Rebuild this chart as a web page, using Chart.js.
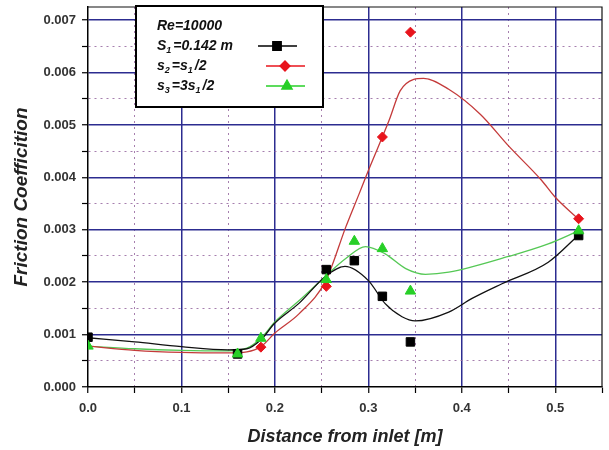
<!DOCTYPE html>
<html>
<head>
<meta charset="utf-8">
<script src="https://cdn.jsdelivr.net/npm/chart.js@4.4.1/dist/chart.umd.min.js"></script>
<style>
  html, body { margin: 0; padding: 0; background: #fff; }
  canvas { display: block; }
</style>
</head>
<body>
<canvas id="frictionChart" width="609" height="450"></canvas>
<script>
(function(){
  'use strict';

  // Measured points: distance from inlet [m] vs friction coefficient
  const s1X = [0.0, 0.16, 0.255, 0.285, 0.315, 0.345, 0.525];
  const s1Y = [0.00095, 0.00063, 0.00224, 0.00241, 0.00173, 0.00086, 0.00289];
  const s2X = [0.185, 0.255, 0.315, 0.345, 0.525];
  const s2Y = [0.00076, 0.00192, 0.00477, 0.00677, 0.00321];
  const s3X = [0.0, 0.16, 0.185, 0.255, 0.285, 0.315, 0.345, 0.525];
  const s3Y = [0.00078, 0.00063, 0.00093, 0.00205, 0.00278, 0.00264, 0.00183, 0.00298];

  // Fitted curves
  const fit1X = [0.0, 0.05, 0.1, 0.15, 0.17, 0.185, 0.2, 0.226, 0.254, 0.275, 0.3, 0.318, 0.336, 0.35, 0.386, 0.411, 0.443, 0.4925, 0.525];
  const fit1Y = [0.00094, 0.00086, 0.00077, 0.00071, 0.00073, 0.0009, 0.00122, 0.0016, 0.00211, 0.0023, 0.00203, 0.00159, 0.00134, 0.00126, 0.00143, 0.00169, 0.00197, 0.00238, 0.0029];
  const fit2X = [0.0, 0.05, 0.1, 0.15, 0.17, 0.185, 0.2, 0.226, 0.2545, 0.2758, 0.29, 0.3, 0.322, 0.334, 0.3486, 0.359, 0.386, 0.42, 0.45, 0.4855, 0.5, 0.525];
  const fit2Y = [0.00078, 0.0007, 0.00066, 0.00065, 0.00067, 0.00077, 0.00103, 0.0014, 0.00203, 0.00305, 0.00368, 0.00413, 0.00508, 0.00565, 0.00587, 0.00589, 0.00568, 0.0052, 0.0046, 0.00394, 0.00362, 0.0032];
  const fit3X = [0.0, 0.05, 0.1, 0.15, 0.17, 0.185, 0.2, 0.226, 0.254, 0.2758, 0.297, 0.318, 0.34, 0.361, 0.386, 0.45, 0.4925, 0.525];
  const fit3Y = [0.00078, 0.00073, 0.0007, 0.00069, 0.00074, 0.00093, 0.00124, 0.00165, 0.00211, 0.00245, 0.00268, 0.00254, 0.00226, 0.00215, 0.00219, 0.00249, 0.00273, 0.00298];

  // Axis ranges and labels
  const xMax = 0.55, xStep = 0.05, xMajor = 0.1;
  const yMax = 0.00725, yStep = 0.0005, yMajor = 0.001;
  const xTitle = 'Distance from inlet [m]';
  const yTitle = 'Friction Coefficition';

  // Legend text, [text, isSubscript] pieces
  const legendHeader = 'Re=10000';
  const s1Label = [['S', false], ['1', true], ['=0.142 m', false]];
  const s2Label = [['s', false], ['2', true], ['=s', false], ['1', true], ['/2', false]];
  const s3Label = [['s', false], ['3', true], ['=3s', false], ['1', true], ['/2', false]];

  const FONT = '"Liberation Sans", Arial, Helvetica, sans-serif';
  const NAVY = '#2c2c90';
  const DOTS = 'rgba(150,105,160,0.85)';
  const BLACK = '#000000', RED = '#e8141c', GREEN = '#27cf27';

  function pts(xs, ys){ return xs.map((x, i) => ({ x, y: ys[i] })); }
  function isMultiple(v, step){ return Math.abs(v / step - Math.round(v / step)) < 1e-6; }

  function curve(xs, ys, color){
    return {
      data: pts(xs, ys), showLine: true, borderColor: color, borderWidth: 1.3,
      pointRadius: 0, pointHoverRadius: 0, cubicInterpolationMode: 'monotone', order: 5
    };
  }

  function markers(xs, ys, color, style, radius, order){
    return {
      data: pts(xs, ys), showLine: false, pointStyle: style, pointRadius: radius,
      backgroundColor: color, borderColor: color, borderWidth: 1, order
    };
  }

  function gridColor(ctx, step, max){
    if(!ctx.tick) return NAVY;
    const v = ctx.tick.value;
    if(v <= 1e-12 || v >= max - 1e-9) return 'rgba(0,0,0,0)';
    return isMultiple(v, step) ? NAVY : DOTS;
  }

  function scaleOpts(max, step, major, digits, title, isY){
    return {
      type: 'linear', min: 0, max,
      ticks: {
        stepSize: step, autoSkip: false, maxRotation: 0, includeBounds: !isY,
        color: '#333', padding: isY ? 6 : 8,
        font: { family: FONT, size: 13, weight: 'bold' },
        callback: (v) => isMultiple(v, major) ? v.toFixed(digits) : ''
      },
      grid: {
        color: (ctx) => gridColor(ctx, major, max),
        lineWidth: (ctx) => (ctx.tick && isMultiple(ctx.tick.value, major)) ? 1.5 : 1,
        tickColor: '#000', tickLength: 6, tickWidth: 1.2
      },
      border: {
        display: true, color: '#000', width: 1.5,
        dash: (ctx) => (ctx.tick && !isMultiple(ctx.tick.value, major)) ? [2, 4] : []
      },
      title: {
        display: true, text: title, color: '#222',
        font: { family: FONT, size: isY ? 19 : 18, weight: 'bold', style: 'italic' },
        padding: isY ? { top: 10, bottom: 0 } : { top: 0, bottom: 2 }
      },
      afterFit: (s) => {
        // keep the plot area fixed; edge labels never reach the frame here
        s.paddingTop = 0; s.paddingBottom = 0; s.paddingLeft = 0; s.paddingRight = 0;
        if(isY) s.width = 88; else s.height = 63;
      }
    };
  }

  // Top and right edges of the plot frame
  const framePlugin = {
    id: 'frame',
    beforeDatasetsDraw(chart){
      const { ctx, chartArea: a } = chart;
      ctx.save();
      ctx.strokeStyle = '#111';
      ctx.lineWidth = 1.2;
      ctx.beginPath();
      ctx.moveTo(a.left, a.top);
      ctx.lineTo(a.right, a.top);
      ctx.lineTo(a.right, a.bottom);
      ctx.stroke();
      ctx.restore();
    }
  };

  function drawRich(ctx, parts, x, y){
    parts.forEach(([text, sub]) => {
      ctx.font = 'italic bold ' + (sub ? 9 : 14) + 'px ' + FONT;
      ctx.fillText(text, x, sub ? y + 5 : y);
      x += ctx.measureText(text).width + (sub ? 2 : 0);
    });
  }

  function drawSample(ctx, x1, x2, xm, y, color, style, radius){
    ctx.strokeStyle = color;
    ctx.lineWidth = 1.3;
    ctx.beginPath();
    ctx.moveTo(x1, y);
    ctx.lineTo(x2, y);
    ctx.stroke();
    ctx.fillStyle = color;
    Chart.helpers.drawPoint(ctx, { pointStyle: style, radius, rotation: 0, borderWidth: 1 }, xm, y);
  }

  // Boxed legend in the upper left of the plot
  const legendPlugin = {
    id: 'boxLegend',
    afterDatasetsDraw(chart){
      const ctx = chart.ctx;
      ctx.save();
      ctx.fillStyle = '#fff';
      ctx.fillRect(136, 6, 187, 101);
      ctx.strokeStyle = '#000';
      ctx.lineWidth = 2;
      ctx.strokeRect(136, 6, 187, 101);

      ctx.fillStyle = '#111';
      ctx.textBaseline = 'middle';
      ctx.textAlign = 'left';
      drawRich(ctx, [[legendHeader, false]], 157, 26);
      drawRich(ctx, s1Label, 157, 46);
      drawRich(ctx, s2Label, 157, 66);
      drawRich(ctx, s3Label, 157, 86);

      drawSample(ctx, 258, 297, 277, 46, BLACK, 'rect', 6);
      drawSample(ctx, 266, 305, 285, 66, RED, 'rectRot', 5);
      drawSample(ctx, 266, 305, 287, 86, GREEN, 'triangle', 6);
      ctx.restore();
    }
  };

  Chart.defaults.font.family = FONT;

  new Chart(document.getElementById('frictionChart'), {
    type: 'scatter',
    data: {
      datasets: [
        curve(fit1X, fit1Y, '#111111'),
        curve(fit2X, fit2Y, '#c43a3a'),
        curve(fit3X, fit3Y, '#55c855'),
        markers(s1X, s1Y, BLACK, 'rect', 6, 3),
        markers(s2X, s2Y, RED, 'rectRot', 5, 2),
        markers(s3X, s3Y, GREEN, 'triangle', 6, 1)
      ]
    },
    options: {
      responsive: false,
      animation: false,
      layout: { padding: { top: 6, right: 6, left: 0, bottom: 0 } },
      plugins: { legend: { display: false }, tooltip: { enabled: false } },
      scales: {
        x: scaleOpts(xMax, xStep, xMajor, 1, xTitle, false),
        y: scaleOpts(yMax, yStep, yMajor, 3, yTitle, true)
      }
    },
    plugins: [framePlugin, legendPlugin]
  });
})();
</script>
</body>
</html>
